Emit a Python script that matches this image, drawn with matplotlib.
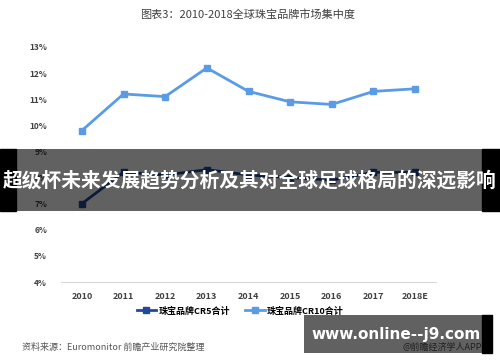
import matplotlib
matplotlib.use("Agg")
import matplotlib.pyplot as plt
from matplotlib.patches import Rectangle
from matplotlib.lines import Line2D

plt.rcParams['font.family'] = ['Noto Sans CJK SC', 'DejaVu Sans']

years = ["2010", "2011", "2012", "2013", "2014", "2015", "2016", "2017", "2018E"]
cr5 = [7.0, 8.2, 8.1, 8.3, 8.1, 8.0, 7.9, 8.2, 8.2]
cr10 = [9.8, 11.2, 11.1, 12.2, 11.3, 10.9, 10.8, 11.3, 11.4]
yticks = [4, 5, 6, 7, 8, 9, 10, 11, 12, 13]
series_names = ["珠宝品牌CR5合计", "珠宝品牌CR10合计"]
title = "图表3：2010-2018全球珠宝品牌市场集中度"
source = "资料来源：Euromonitor 前瞻产业研究院整理"
banner = "超级杯未来发展趋势分析及其对全球足球格局的深远影响"
site = "www.online--j9.com"
app = "@前瞻经济学人APP"

W, H = 500, 362
fig = plt.figure(figsize=(W/100, H/100), dpi=100)
ax = fig.add_axes([61/W, 1-282/H, (436-61)/W, (282-47)/H])

x = list(range(len(years)))
c5 = "#1f4a9a"
c10 = "#5b9be6"
ax.plot(x, cr5, color=c5, lw=2, marker='s', ms=4.5, zorder=3)
ax.plot(x, cr10, color=c10, lw=2, marker='s', ms=4.5, zorder=3)

ax.set_xlim(-0.5, len(years)-0.5)
ax.set_ylim(4, 13)
ax.set_yticks(yticks)
ax.set_yticklabels([f"{v}%" for v in yticks], fontsize=6, fontweight='bold', color='#404040')
ax.set_xticks(x)
ax.set_xticklabels(years, fontsize=6.5, fontweight='bold', color='#404040')
for s in ['top', 'right', 'left']:
    ax.spines[s].set_visible(False)
ax.spines['bottom'].set_color('#d9d9d9')
ax.tick_params(axis='both', length=0)
ax.tick_params(axis='y', pad=10)
ax.tick_params(axis='x', pad=7)

fig.text(248/W, 1-15/H, title, ha='center', va='center', fontsize=8, color='#404040')

handles = [Line2D([], [], color=c5, lw=2, marker='s', ms=4),
           Line2D([], [], color=c10, lw=2, marker='s', ms=4)]
fig.legend(handles, series_names, loc='center', bbox_to_anchor=(240/W, 1-311/H), ncol=2,
           frameon=False, handlelength=2.2, handletextpad=0.2, columnspacing=1.7,
           prop={'weight': 'bold', 'size': 6.5})

fig.text(22/W, 1-347/H, source, ha='left', va='center', fontsize=6.5, color='#555555', style='italic')
fig.text(482/W, 1-347/H, app, ha='right', va='center', fontsize=6.5, color='#555555', zorder=4)

# top banner (semi-transparent)
fig.patches.append(Rectangle((0, 1-211/H), 16/W, 62/H, transform=fig.transFigure, color='black', zorder=5))
fig.patches.append(Rectangle((482/W, 1-211/H), 18/W, 62/H, transform=fig.transFigure, color='black', zorder=5))
fig.patches.append(Rectangle((16/W, 1-211/H), (482-16)/W, 62/H, transform=fig.transFigure,
                             facecolor='black', alpha=0.62, edgecolor='none', zorder=6))
fig.text(250/W, 1-180/H, banner, ha='center', va='center', fontsize=14.2, fontweight='bold', color='white', zorder=7)

# bottom right banner
fig.patches.append(Rectangle((482/W, 1-353/H), 10/W, 38/H, transform=fig.transFigure, color='black', zorder=5))
fig.patches.append(Rectangle((304/W, 1-353/H), (482-304)/W, 38/H, transform=fig.transFigure,
                             facecolor='black', alpha=0.62, edgecolor='none', zorder=6))
fig.text(396/W, 1-334/H, site, ha='center', va='center', fontsize=11, fontweight='bold', color='white', zorder=7,
         family='DejaVu Sans')

fig.savefig("out.png", dpi=100)
